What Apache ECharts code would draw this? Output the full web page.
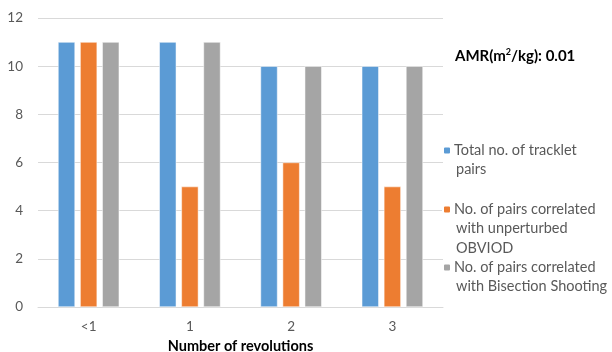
<!DOCTYPE html>
<html>
<head>
<meta charset="utf-8">
<script src="https://cdn.jsdelivr.net/npm/echarts@6/dist/echarts.min.js"></script>
<style>
  html, body { margin: 0; padding: 0; background: #fff; }
  #chart { width: 612px; height: 352px; }
</style>
</head>
<body>
<div id="chart"></div>
<script>
// Revolution buckets along the x axis
const categories = ['<1', '1', '2', '3'];

// Series values
const totalPairs = [11, 11, 10, 10];
const unperturbedPairs = [11, 5, 6, 5];
const bisectionPairs = [11, 11, 10, 10];

// Series names, split into legend lines
const seriesNames = [
  'Total no. of tracklet pairs',
  'No. of pairs correlated with unperturbed OBVIOD',
  'No. of pairs correlated with Bisection Shooting'
];
const legendLines = [
  ['Total no. of tracklet', 'pairs'],
  ['No. of pairs correlated', 'with unperturbed', 'OBVIOD'],
  ['No. of pairs correlated', 'with Bisection Shooting']
];

const yTicks = { min: 0, max: 12, interval: 2 };

const colors = ['#5B9BD5', '#ED7D31', '#A5A5A5'];
const FONT = 'Lato, "Open Sans", sans-serif';

const chart = echarts.init(document.getElementById('chart'), null, { renderer: 'canvas' });

const legendTop = [143, 202, 260];
const lineH = 19.5;

const legends = seriesNames.map((name, i) => ({
  data: [name],
  orient: 'vertical',
  left: 442,
  top: legendTop[i],
  itemWidth: 8,
  itemHeight: 8,
  itemGap: 0,
  padding: 0,
  selectedMode: false,
  formatter: () => legendLines[i][0],
  textStyle: { fontFamily: FONT, fontSize: 14.5, color: '#595959', padding: [0, 0, 0, -2] }
}));

// Continuation lines of the multi-line legend labels
const legendExtra = [];
legendLines.forEach((lines, i) => {
  lines.slice(1).forEach((t, j) => {
    legendExtra.push({
      type: 'text',
      left: 456,
      top: legendTop[i] + lineH * (j + 1) - 0.5,
      style: { text: t, font: '14.5px ' + FONT, fill: '#595959' }
    });
  });
});

chart.setOption({
  backgroundColor: '#ffffff',
  animation: false,
  color: colors,
  grid: { left: 38, right: 169, top: 18, bottom: 45, outerBoundsMode: 'none', containLabel: false },
  legend: legends,
  graphic: [
    {
      type: 'text',
      left: 455,
      top: 48,
      style: {
        text: '{b|AMR(m}{s|2}{b|/kg): 0.01}',
        rich: {
          b: { font: 'bold 15px ' + FONT, fill: '#000', verticalAlign: 'bottom' },
          s: { font: 'bold 9px ' + FONT, fill: '#000', verticalAlign: 'top', padding: [0, 0, 7, 0] }
        }
      }
    },
    ...legendExtra
  ],
  xAxis: {
    type: 'category',
    data: categories,
    name: 'Number of revolutions',
    nameLocation: 'middle',
    nameGap: 28,
    nameTextStyle: { fontFamily: FONT, fontSize: 14.5, fontWeight: 'bold', color: '#000' },
    axisLine: { lineStyle: { color: '#D9D9D9', width: 1 } },
    axisTick: { show: false },
    axisLabel: { fontFamily: FONT, fontSize: 13.5, color: '#595959', margin: 13 }
  },
  yAxis: {
    type: 'value',
    min: yTicks.min,
    max: yTicks.max,
    interval: yTicks.interval,
    axisLine: { show: false },
    axisTick: { show: false },
    axisLabel: { fontFamily: FONT, fontSize: 13.5, color: '#595959', margin: 15 },
    splitLine: { lineStyle: { color: '#D9D9D9', width: 1 } }
  },
  series: [totalPairs, unperturbedPairs, bisectionPairs].map((vals, i) => ({
    name: seriesNames[i],
    type: 'bar',
    data: vals,
    barWidth: 17,
    barGap: '30%',
    itemStyle: { color: colors[i], borderColor: '#ffffff', borderWidth: 0.5 }
  }))
});
</script>
</body>
</html>
